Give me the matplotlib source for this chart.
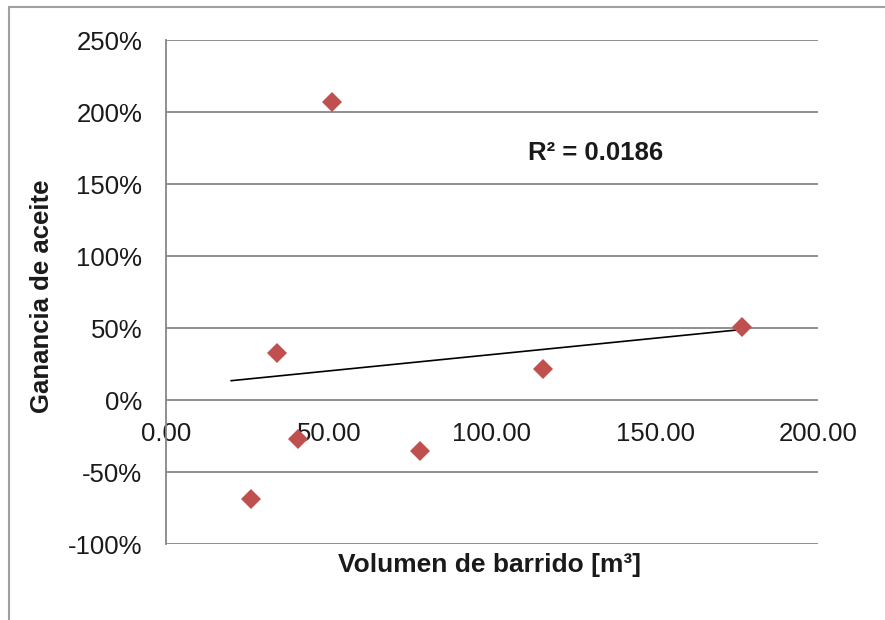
import numpy as np
import matplotlib.pyplot as plt
from matplotlib.patches import Rectangle
from matplotlib.ticker import FuncFormatter

plt.rcParams['font.family'] = ['Liberation Sans', 'DejaVu Sans']

# values
volumen = np.array([26.0, 34.0, 40.5, 51.0, 78.0, 115.5, 176.7])
ganancia = np.array([-0.69, 0.325, -0.27, 2.07, -0.355, 0.215, 0.51])
x_ticks = [0, 50, 100, 150, 200]
y_ticks = [-1.0, -0.5, 0.0, 0.5, 1.0, 1.5, 2.0, 2.5]
trend_x_start = 20.0
r2_label = 'R² = 0.0186'

grid_color = '#868686'
marker_color = '#C0504D'
text_color = '#1a1a1a'

fig = plt.figure(figsize=(8.85, 6.2), dpi=100)
ax = fig.add_axes([166 / 885, 1 - 544 / 620, 652 / 885, 504 / 620])

# outer chart border (left and top only visible)
fig.patches.append(Rectangle((9 / 885, -0.1), 1.2, 1 - 7 / 620 + 0.1,
                             transform=fig.transFigure, fill=False,
                             edgecolor='#a0a0a0', linewidth=1.5))

ax.set_xlim(0, 200)
ax.set_ylim(-1.0, 2.5)
ax.set_xticks(x_ticks)
ax.set_yticks(y_ticks)
ax.xaxis.set_major_formatter(FuncFormatter(lambda v, p: '{:.2f}'.format(v)))
ax.yaxis.set_major_formatter(FuncFormatter(lambda v, p: '{:.0f}%'.format(v * 100)))

ax.grid(axis='y', color=grid_color, linewidth=1.3)
ax.set_axisbelow(True)
for side in ['top', 'right']:
    ax.spines[side].set_visible(False)
ax.spines['bottom'].set_position(('data', 0))
ax.spines['bottom'].set_visible(False)
ax.spines['left'].set_color(grid_color)
ax.spines['left'].set_linewidth(1.3)

ax.tick_params(axis='both', length=0, labelsize=18.5, colors=text_color)
ax.tick_params(axis='y', pad=17)
ax.tick_params(axis='x', pad=16)

# linear trendline
slope, intercept = np.polyfit(volumen, ganancia, 1)
trend_x = np.array([trend_x_start, volumen.max()])
ax.plot(trend_x, slope * trend_x + intercept, color='black', linewidth=1.2, zorder=3)

ax.plot(volumen, ganancia, linestyle='none', marker='D', markersize=10,
        color=marker_color, markeredgewidth=0, zorder=4)

ax.text(0.555, 0.776, r2_label, transform=ax.transAxes, fontsize=18.5,
        fontweight='bold', color=text_color, va='center', ha='left')

fig.text(42 / 885, 1 - 296 / 620, 'Ganancia de aceite', rotation=90,
         fontsize=18.5, fontweight='bold', color=text_color, ha='center', va='center')
fig.text(490 / 885, 1 - 565 / 620, 'Volumen de barrido [m³]',
         fontsize=19, fontweight='bold', color=text_color, ha='center', va='center')

fig.savefig('out.png', dpi=100, facecolor='white')
